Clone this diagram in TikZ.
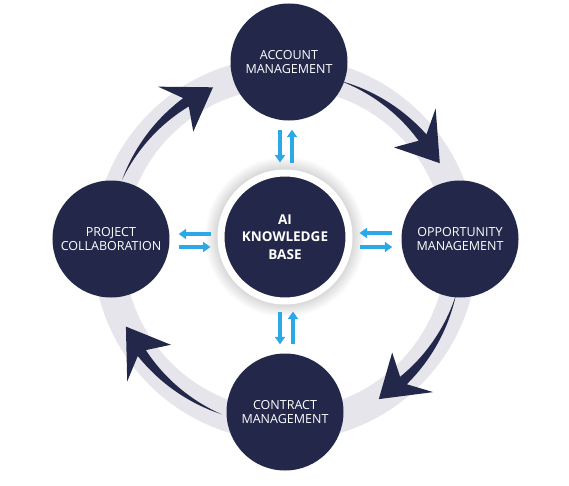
\documentclass[tikz,border=0pt]{standalone}
\usepackage{fontspec}
\setmainfont{Open Sans}
\usetikzlibrary{arrows.meta}
\definecolor{navy}{HTML}{23284A}
\definecolor{ringc}{HTML}{E5E5EB}
\definecolor{sky}{HTML}{2AA9E6}

\begin{document}
\begin{tikzpicture}[x=1pt,y=1pt,
  stage/.style={circle,fill=navy,text=white,minimum size=117pt,inner sep=0pt,align=center,
                font=\fontsize{12.5}{14.5}\selectfont},
  hub/.style={circle,fill=navy,draw=white,line width=7pt,text=white,minimum size=128pt,inner sep=0pt,
              align=center,font=\fontsize{13.5}{17.5}\selectfont\bfseries},
  link/.style={draw=sky,line width=3.2pt,shorten <=9pt,shorten >=7pt},
  ptr/.tip={Triangle[length=7.5pt,width=10pt]},
  sweep/.style={fill=navy}]
\useasboundingbox (-285,-248) rectangle (284,237);

% the grey ring
\fill[ringc,even odd rule] (0,-12) circle (192) (0,-12) circle (161);

% four sweeping arrows along the ring
\begin{scope}[shift={(0,-12)}]
\foreach \s/\t in {157/114,72/29,-15/-58,-111/-154}{
  \pgfmathsetmacro{\n}{\t+10}
  \pgfmathsetmacro{\b}{\t+14}
  \fill[sweep] plot[domain=\s:\n,samples=25] (\x:{177+5*(\s-\x)/(\s-\n)})
    -- (\b:206) -- (\t:177) -- (\b:149)
    -- plot[domain=\n:\s,samples=25] (\x:{177-5*(\s-\x)/(\s-\n)}) -- cycle;
}
\end{scope}

%============================== the stages ==============================
\node[stage] (acc) at (4,175) {ACCOUNT\\MANAGEMENT};
\node[stage] (opp) at (175,-2) {OPPORTUNITY\\MANAGEMENT};
\node[stage] (con) at (0,-175) {CONTRACT\\MANAGEMENT};
\node[stage] (proj) at (-174,-2) {PROJECT\\COLLABORATION};

% soft glow round the hub
\foreach \r in {68,69,...,80} \fill[black,opacity=0.012] (0,0) circle (\r);
\node[hub] (hub) at (0,0) {AI\\KNOWLEDGE\\BASE};

%============================== the links ==============================
\draw[link,-ptr] ([xshift=-9pt]acc.south) -- ([xshift=-9pt]acc.south |- hub.north);
\draw[link,ptr-] ([xshift=3pt]acc.south) -- ([xshift=3pt]acc.south |- hub.north);

\draw[link,-ptr] ([yshift=6pt]opp.west) -- ([yshift=6pt]opp.west -| hub.east);
\draw[link,ptr-] ([yshift=-8pt]opp.west) -- ([yshift=-8pt]opp.west -| hub.east);

\draw[link,ptr-] ([xshift=-5pt]con.north) -- ([xshift=-5pt]con.north |- hub.south);
\draw[link,-ptr] ([xshift=8pt]con.north) -- ([xshift=8pt]con.north |- hub.south);

\draw[link,ptr-] ([yshift=5pt]proj.east) -- ([yshift=5pt]proj.east -| hub.west);
\draw[link,-ptr] ([yshift=-8pt]proj.east) -- ([yshift=-8pt]proj.east -| hub.west);
\end{tikzpicture}
\end{document}
